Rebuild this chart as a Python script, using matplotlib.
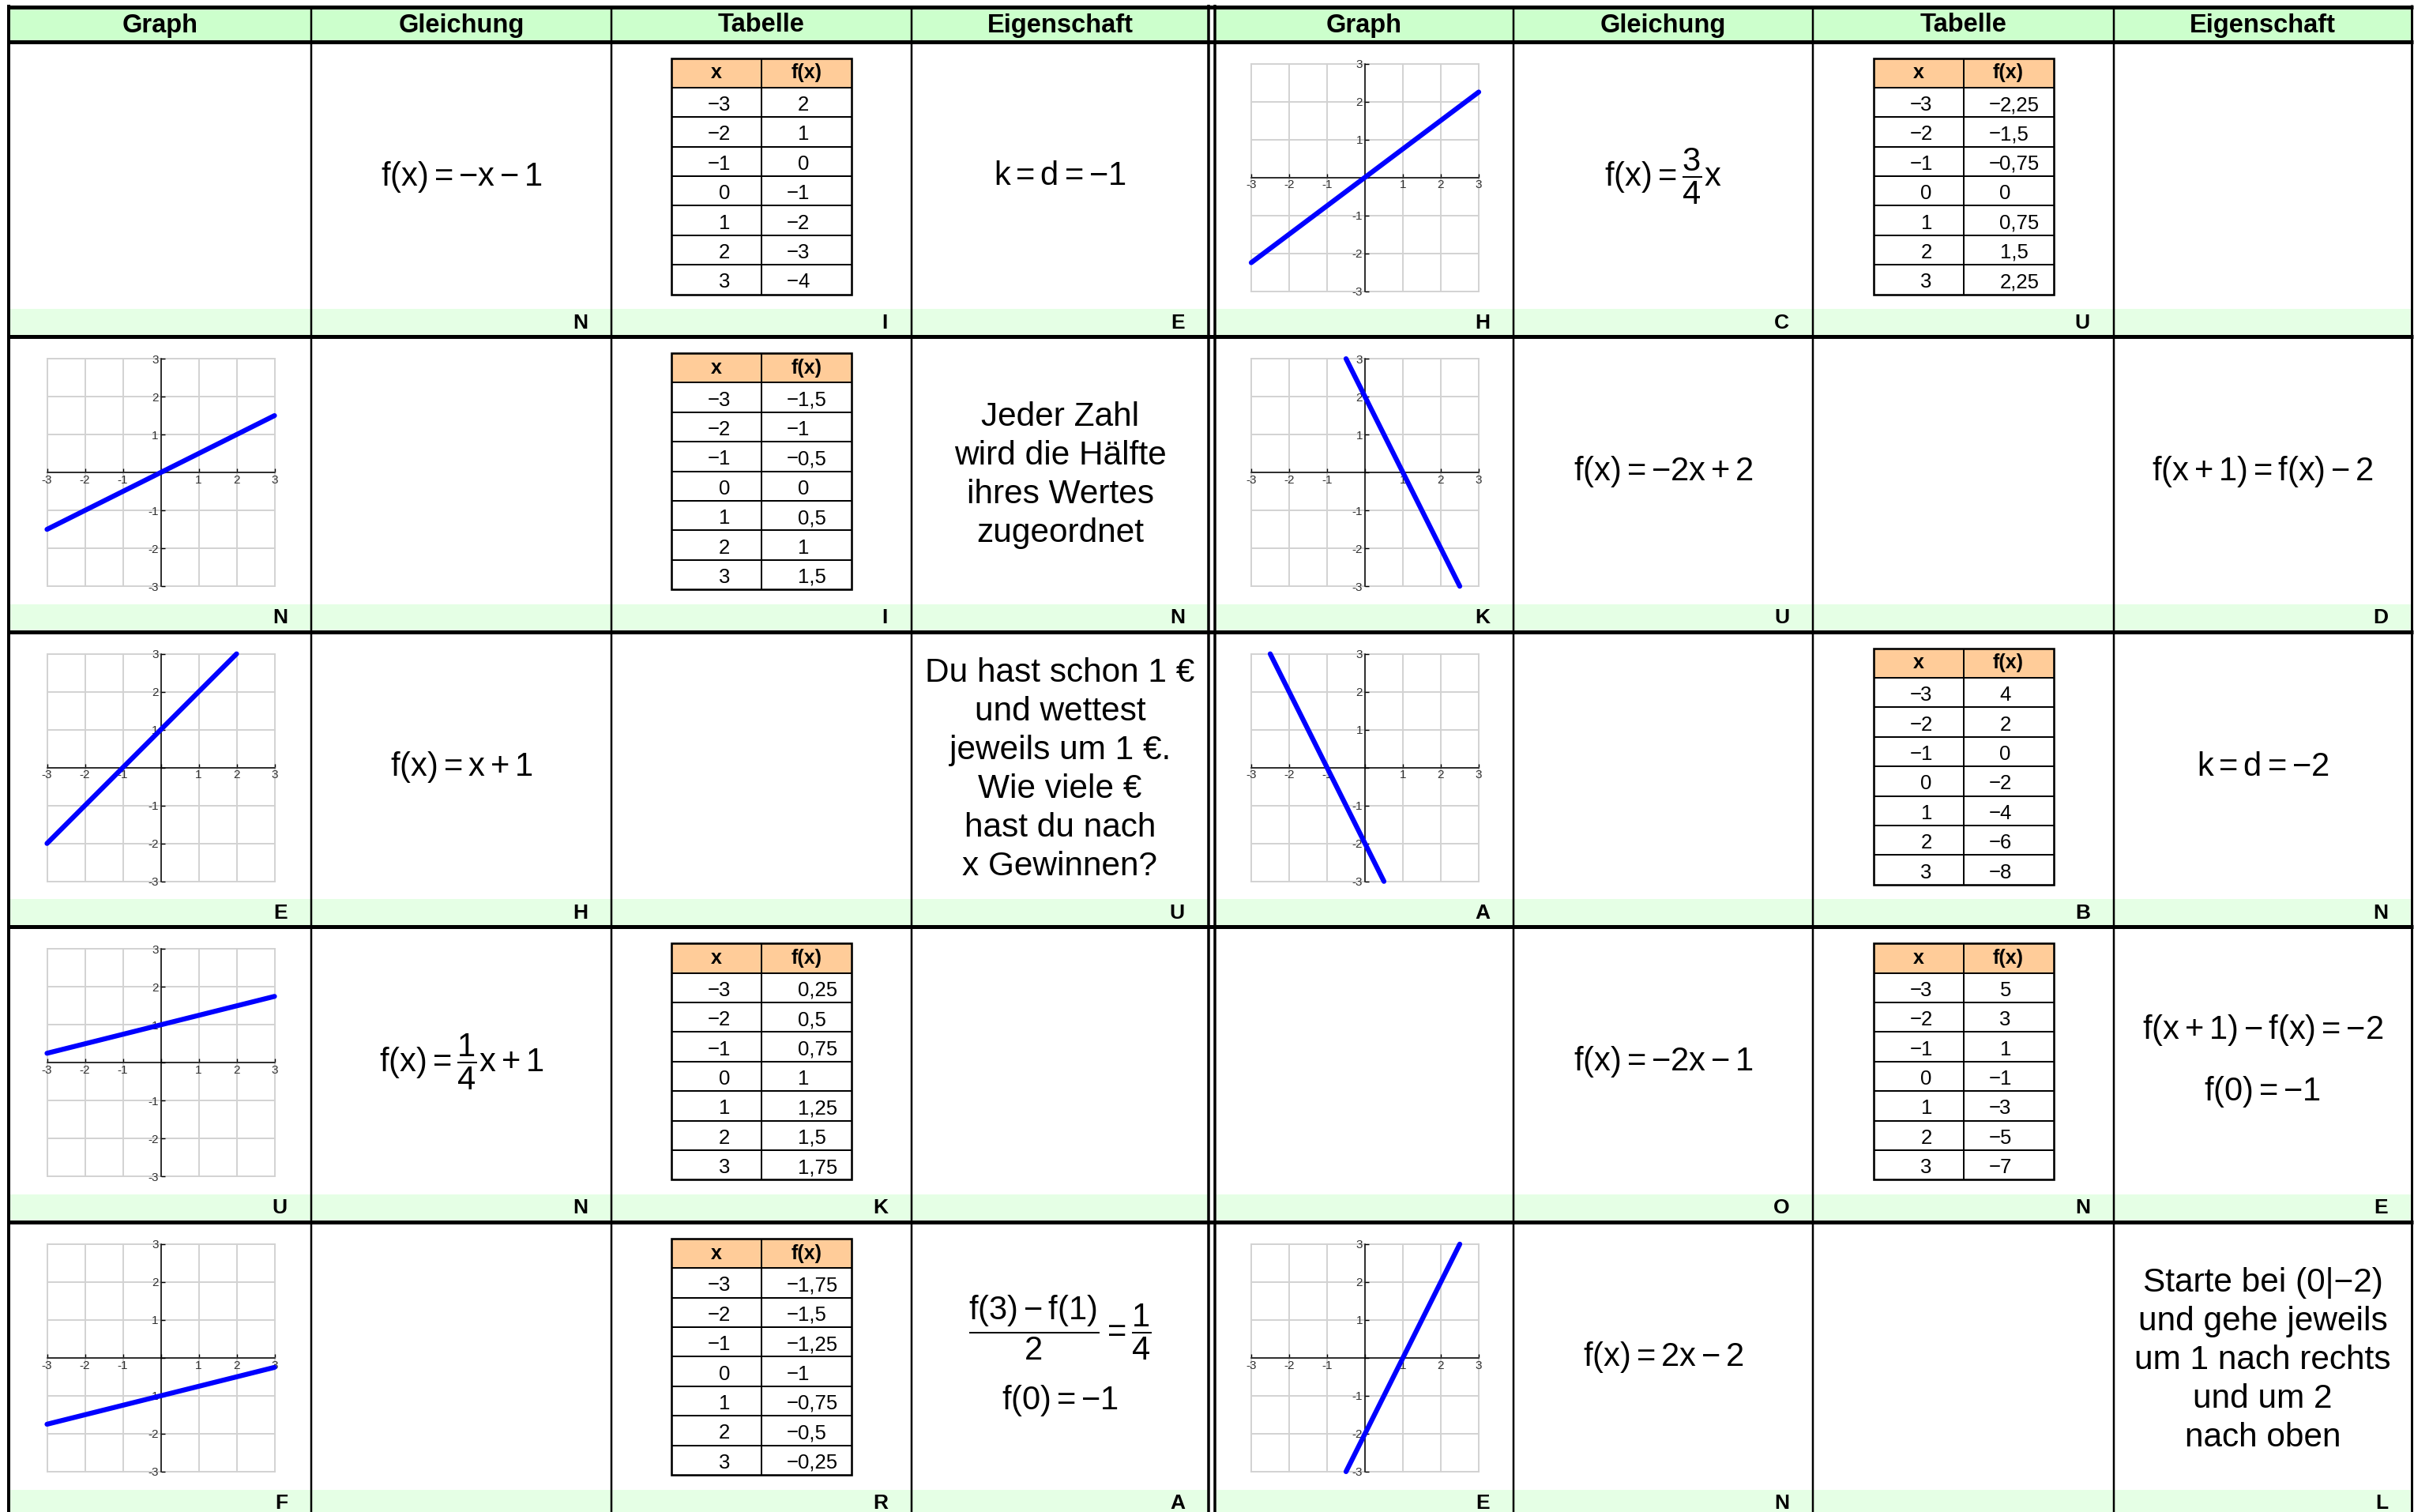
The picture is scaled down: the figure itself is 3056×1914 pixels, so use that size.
import matplotlib
matplotlib.use('Agg')
import matplotlib.pyplot as plt
from matplotlib.patches import Rectangle

plt.rcParams['font.family'] = ['Liberation Sans', 'DejaVu Sans']
plt.rcParams['mathtext.fontset'] = 'custom'
plt.rcParams['mathtext.rm'] = 'Liberation Sans'
plt.rcParams['mathtext.it'] = 'Liberation Sans'
plt.rcParams['mathtext.bf'] = 'Liberation Sans:bold'

# ---------------- data ----------------
headers = ['Graph', 'Gleichung', 'Tabelle', 'Eigenschaft']
x_values = ['−3', '−2', '−1', '0', '1', '2', '3']
axis_ticks = [-3, -2, -1, 0, 1, 2, 3]
axis_labels = ['-3', '-2', '-1', '', '1', '2', '3']

# graph lines as two end points (x0, y0, x1, y1)
left_graphs = [None, (-3, -1.5, 3, 1.5), (-3, -2, 2, 3), (-3, 0.25, 3, 1.75), (-3, -1.75, 3, -0.25)]
right_graphs = [(-3, -2.25, 3, 2.25), (-0.5, 3, 2.5, -3), (-2.5, 3, 0.5, -3), None, (-0.5, -3, 2.5, 3)]

left_equations = [r'$f(x) = {-x} - 1$', None, r'$f(x) = x + 1$', r'$f(x) = \dfrac{1}{4}x + 1$', None]
right_equations = [r'$f(x) = \dfrac{3}{4}x$', r'$f(x) = {-2x} + 2$', None, r'$f(x) = {-2x} - 1$', r'$f(x) = 2x - 2$']

left_tables = [
    ['2', '1', '0', '−1', '−2', '−3', '−4'],
    ['−1,5', '−1', '−0,5', '0', '0,5', '1', '1,5'],
    None,
    ['0,25', '0,5', '0,75', '1', '1,25', '1,5', '1,75'],
    ['−1,75', '−1,5', '−1,25', '−1', '−0,75', '−0,5', '−0,25'],
]
right_tables = [
    ['−2,25', '−1,5', '−0,75', '0', '0,75', '1,5', '2,25'],
    None,
    ['4', '2', '0', '−2', '−4', '−6', '−8'],
    ['5', '3', '1', '−1', '−3', '−5', '−7'],
    None,
]

left_props = [
    [r'$k = d = {-1}$'],
    ['Jeder Zahl', 'wird die Hälfte', 'ihres Wertes', 'zugeordnet'],
    ['Du hast schon 1 €', 'und wettest', 'jeweils um 1 €.', 'Wie viele €', 'hast du nach', 'x Gewinnen?'],
    None,
    [r'$\dfrac{f(3) - f(1)}{2} = \dfrac{1}{4}$', r'$f(0) = {-1}$'],
]
right_props = [
    None,
    [r'$f(x+1) = f(x) - 2$'],
    [r'$k = d = {-2}$'],
    [r'$f(x+1) - f(x) = {-2}$', r'$f(0) = {-1}$'],
    ['Starte bei (0|−2)', 'und gehe jeweils', 'um 1 nach rechts', 'und um 2', 'nach oben'],
]

left_letters = [['', 'N', 'I', 'E'], ['N', '', 'I', 'N'], ['E', 'H', '', 'U'],
                ['U', 'N', 'K', ''], ['F', '', 'R', 'A']]
right_letters = [['H', 'C', 'U', ''], ['K', 'U', '', 'D'], ['A', '', 'B', 'N'],
                 ['', 'O', 'N', 'E'], ['E', 'N', '', 'L']]

# ---------------- layout (pixels) ----------------
W, H = 3056, 1914
PX = 72 / 100  # points per pixel at dpi 100
head_top, head_bot = 8.5, 52.5
row_h = 373.6
strip_h = 35
left_cols = [11, 394, 774, 1154, 1530]
right_cols = [1538, 1916, 2295, 2676, 3053]
green_head = '#ccffcc'
green_strip = '#e5ffe5'
peach = '#ffcc99'
EQ_SIZE = 30
TXT_SIZE = 30.5

fig = plt.figure(figsize=(W / 100, H / 100), dpi=100)
ax = fig.add_axes([0, 0, 1, 1])
ax.set_xlim(0, W)
ax.set_ylim(H, 0)
ax.axis('off')


def hline(y, x0, x1, px):
    ax.plot([x0, x1], [y, y], color='black', lw=px * PX, solid_capstyle='butt')


def vline(x, y0, y1, px):
    ax.plot([x, x], [y0, y1], color='black', lw=px * PX, solid_capstyle='butt')


def draw_graph(cx, cy, seg):
    size = 288
    g = fig.add_axes([(cx - size / 2) / W, 1 - (cy + size / 2) / H, size / W, size / H])
    g.set_xlim(-3, 3)
    g.set_ylim(-3, 3)
    g.set_xticks(axis_ticks)
    g.set_yticks(axis_ticks)
    g.set_xticklabels(axis_labels)
    g.set_yticklabels(axis_labels)
    g.spines['left'].set_position(('data', 0))
    g.spines['bottom'].set_position(('data', 0))
    g.spines['top'].set_visible(False)
    g.spines['right'].set_visible(False)
    for s in ('left', 'bottom'):
        g.spines[s].set_linewidth(1.1)
    g.tick_params(direction='in', length=3.8, width=1, labelsize=11, labelcolor='#303030', pad=2)
    g.grid(True, color='#d2d2d2', lw=1.4)
    g.set_axisbelow(True)
    for gl in g.get_xgridlines() + g.get_ygridlines():
        gl.set_clip_on(False)
    g.patch.set_alpha(0)
    g.plot([seg[0], seg[2]], [seg[1], seg[3]], color='#0000ff', lw=4.5, solid_capstyle='round', clip_on=False, zorder=5)


def draw_table(cx, top, values):
    tw, th = 228, 299
    x0 = cx - tw / 2
    xm = cx
    rh = th / 8
    ax.add_patch(Rectangle((x0, top), tw, rh, facecolor=peach, edgecolor='none'))
    for i in range(1, 8):
        hline(top + i * rh, x0, x0 + tw, 2)
    vline(xm, top, top + th, 2)
    ax.add_patch(Rectangle((x0, top), tw, th, facecolor='none', edgecolor='black', lw=2.6 * PX))
    ax.text(x0 + tw / 4, top + rh / 2, 'x', ha='center', va='center', fontsize=18, fontweight='bold')
    ax.text(xm + tw / 4, top + rh / 2, 'f(x)', ha='center', va='center', fontsize=18, fontweight='bold')
    for i in range(7):
        yc = top + (i + 1.5) * rh + 1
        for anchor, val in ((x0 + 60, x_values[i]), (xm + 46, values[i])):
            if val.startswith('−'):
                ax.text(anchor + 1, yc, '−', ha='right', va='center_baseline', fontsize=18.5)
                val = val[1:]
            ax.text(anchor, yc, val, ha='left', va='center_baseline', fontsize=18.5)


def draw_props(cx, cy, lines):
    if lines[0].startswith('$'):
        if len(lines) == 1:
            offs = [0]
        elif 'dfrac' in lines[0]:
            offs = [-37, 55]
        else:
            offs = [-40, 38]
        for off, ln in zip(offs, lines):
            ax.text(cx, cy + off, ln, ha='center', va='center', fontsize=EQ_SIZE)
    else:
        n = len(lines)
        for i, ln in enumerate(lines):
            y = cy + (i - (n - 1) / 2) * 49
            ax.text(cx, y + 15, ln, ha='center', va='baseline', fontsize=TXT_SIZE)


halves = [
    (left_cols, left_graphs, left_equations, left_tables, left_props, left_letters),
    (right_cols, right_graphs, right_equations, right_tables, right_props, right_letters),
]

for cols, graphs, eqs, tables, props, letters in halves:
    # header band
    ax.add_patch(Rectangle((cols[0], head_top), cols[-1] - cols[0], head_bot - head_top,
                           facecolor=green_head, edgecolor='none'))
    for j, name in enumerate(headers):
        ax.text((cols[j] + cols[j + 1]) / 2, 32, name, ha='center', va='center',
                fontsize=23.5, fontweight='bold')
    for r in range(5):
        top = head_bot + r * row_h
        ax.add_patch(Rectangle((cols[0], top + row_h - strip_h), cols[-1] - cols[0], strip_h,
                               facecolor=green_strip, edgecolor='none'))
        cy = top + 171
        centers = [(cols[j] + cols[j + 1]) / 2 for j in range(4)]
        if graphs[r] is not None:
            draw_graph(centers[0] + 1, top + 172, graphs[r])
        if eqs[r] is not None:
            ax.text(centers[1], cy, eqs[r], ha='center', va='center', fontsize=EQ_SIZE)
        if tables[r] is not None:
            draw_table(centers[2], top + 21, tables[r])
        if props[r] is not None:
            draw_props(centers[3], cy, props[r])
        for j in range(4):
            if letters[r][j]:
                ax.text(cols[j + 1] - 30, top + row_h - strip_h / 2, letters[r][j],
                        ha='right', va='center', fontsize=19, fontweight='bold')
    # column lines
    for x in cols[1:-1]:
        vline(x, head_top, H, 2.5)

# frame lines
hline(head_top, 9, 3055, 5)
hline(head_bot, 9, 3055, 5)
for r in range(1, 6):
    hline(head_bot + r * row_h, 9, 3055, 5)
vline(11, 6, H, 4)
vline(1530, 6, H, 3.5)
vline(1538, 6, H, 3.5)
vline(3053, 6, H, 3)

fig.savefig('out.png', dpi=100)
